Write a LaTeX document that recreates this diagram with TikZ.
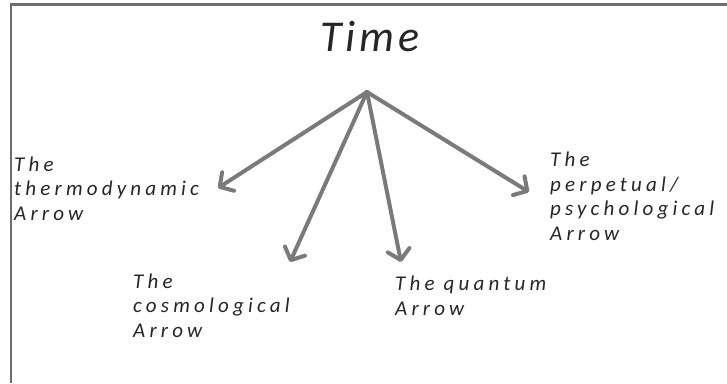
\documentclass[tikz,border=0pt]{standalone}
\usepackage{fontspec}
\setmainfont{Carlito}
\newfontfamily\lblfont[LetterSpace=20]{Carlito}
\newfontfamily\ttlfont[LetterSpace=9]{Carlito}
\usetikzlibrary{arrows.meta}
\definecolor{framegray}{HTML}{6E6E6E}
\definecolor{arrgray}{HTML}{7A7A7A}
\definecolor{txtgray}{HTML}{262626}
\begin{document}
\begin{tikzpicture}[x=1pt,y=-1pt,
  lbl/.style={anchor=base west,align=left,inner sep=0pt,text=txtgray,
    font={\lblfont\itshape\fontsize{21}{24.5}\selectfont}},
  ttl/.style={anchor=base,inner sep=0pt,text=black!85,
    font={\ttlfont\itshape\fontsize{44}{47}\selectfont}},
  arr/.style={draw=arrgray,line width=4pt,line cap=round,
    -{Straight Barb[length=10pt,width=22pt,line cap=round,line join=round]}}]
\useasboundingbox (0,0) rectangle (727,383);
\draw[framegray,line width=2.5pt] (11,383) -- (11,4.5) -- (727,4.5);
\node[ttl] (time) at (370,51) {Time};
\coordinate (o) at (367,92);
\coordinate (t1) at (218,188);
\coordinate (t2) at (290,262);
\coordinate (t3) at (401,262);
\coordinate (t4) at (529,192);
\draw[arr] (o) -- (t1);
\draw[arr] (o) -- (t2);
\draw[arr] (o) -- (t3);
\draw[arr] (o) -- (t4);
\node[lbl] (thermo) at (14,220) {The\\thermodynamic\\Arrow};
\node[lbl] (cosmo) at (133,337) {The\\cosmological\\Arrow};
\node[lbl] (quant) at (395,315) {The quantum\\Arrow};
\node[lbl] (perp) at (550,240) {The\\perpetual/\\psychological\\Arrow};
\end{tikzpicture}
\end{document}
